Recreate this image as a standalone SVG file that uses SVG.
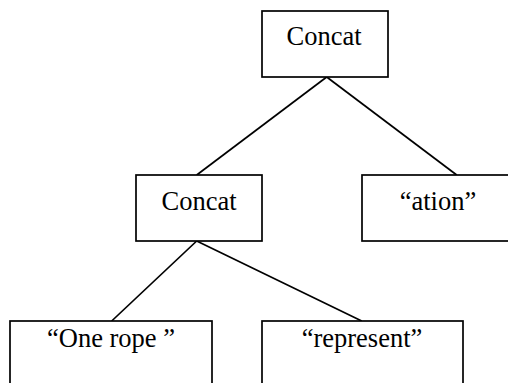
<svg xmlns="http://www.w3.org/2000/svg" width="508" height="383" viewBox="0 0 508 383">
  <style>
    .box { fill: #ffffff; stroke: #000000; stroke-width: 1.7; }
    .edge { fill: none; stroke: #000000; stroke-width: 1.7; }
    .label { font-family: "Liberation Serif", "Times New Roman", serif; font-size: 26.5px; fill: #000000; text-anchor: middle; }
  </style>
  <rect width="508" height="383" fill="#ffffff"/>

  <g id="connectors">
    <line class="edge" x1="326.7" y1="77" x2="196.7" y2="175"/>
    <line class="edge" x1="326.7" y1="77" x2="456.7" y2="175"/>
    <line class="edge" x1="196.7" y1="241" x2="111.7" y2="321"/>
    <line class="edge" x1="196.7" y1="241" x2="361.7" y2="321"/>
  </g>

  <g id="root-concat">
    <rect class="box" x="262" y="11" width="126" height="66"/>
    <text class="label" x="324" y="45">Concat</text>
  </g>

  <g id="inner-concat">
    <rect class="box" x="136" y="175" width="126" height="66"/>
    <text class="label" x="199" y="210">Concat</text>
  </g>

  <g id="leaf-ation">
    <rect class="box" x="362" y="175" width="155" height="66"/>
    <text class="label" x="438" y="210">“ation”</text>
  </g>

  <g id="leaf-one-rope">
    <rect class="box" x="10" y="321" width="202" height="80"/>
    <text class="label" x="111" y="347">“One rope ”</text>
  </g>

  <g id="leaf-represent">
    <rect class="box" x="262" y="321" width="201" height="80"/>
    <text class="label" x="362" y="347">“represent”</text>
  </g>
</svg>
